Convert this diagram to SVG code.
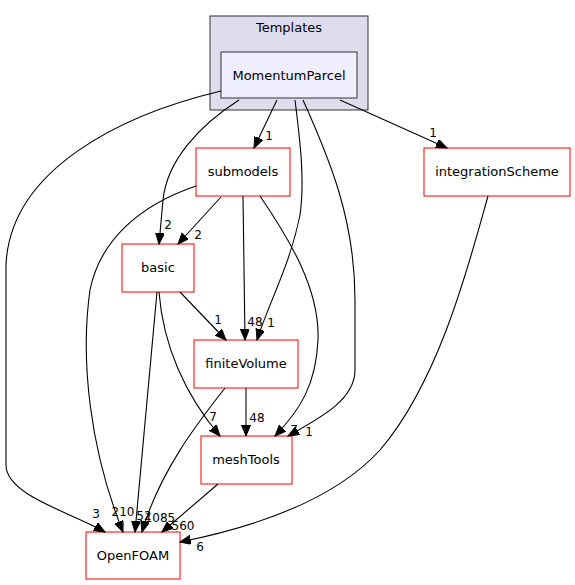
<svg xmlns="http://www.w3.org/2000/svg" width="575" height="585" viewBox="0 0 575 585">
<style>
.node rect{fill:#ffffff;stroke:#ff0000;stroke-width:1}
text{font-family:"DejaVu Sans","Liberation Sans",sans-serif;font-size:13px;fill:#000}
.n{text-anchor:middle}
.e path{fill:none;stroke:#000;stroke-width:1.1;marker-end:url(#ah)}
.e text{text-anchor:middle;font-size:12px}
</style>
<defs>
<marker id="ah" markerUnits="userSpaceOnUse" markerWidth="12" markerHeight="10" refX="11" refY="4.5" orient="auto" viewBox="0 0 12 10">
<polygon points="0,0 11,4.5 0,9" fill="#000" stroke="#000"/>
</marker>
</defs>
<rect width="575" height="585" fill="#fff"/>
<g id="cluster_Templates">
<rect x="210" y="16" width="158" height="94" fill="#ddddee" stroke="#333333"/>
<text class="n" x="289" y="32">Templates</text>
</g>
<g id="MomentumParcel">
<rect x="221" y="52" width="136" height="46" fill="#eeeeff" stroke="#333333"/>
<text class="n" x="289" y="80">MomentumParcel</text>
</g>
<g id="submodels" class="node">
<rect x="196" y="148" width="94" height="48"/>
<text class="n" x="243" y="176">submodels</text>
</g>
<g id="integrationScheme" class="node">
<rect x="424" y="148" width="146" height="48"/>
<text class="n" x="497" y="176">integrationScheme</text>
</g>
<g id="basic" class="node">
<rect x="122" y="244" width="72" height="48"/>
<text class="n" x="158" y="272">basic</text>
</g>
<g id="finiteVolume" class="node">
<rect x="194" y="340" width="104" height="48"/>
<text class="n" x="246" y="368">finiteVolume</text>
</g>
<g id="meshTools" class="node">
<rect x="201" y="436" width="91" height="48"/>
<text class="n" x="246" y="464">meshTools</text>
</g>
<g id="OpenFOAM" class="node">
<rect x="86" y="532" width="94" height="47"/>
<text class="n" x="133" y="560">OpenFOAM</text>
</g>
<g id="edges" class="e">
<path d="M221,91 C120,115 10,170 6,265 L6,465 C6,495 70,512 105,532"/>
<text x="96" y="518">3</text>
<path d="M239,100 C200,125 167,160 163,200 L159,244"/>
<text x="168" y="229">2</text>
<path d="M277,100 L254,148"/>
<text x="269" y="140">1</text>
<path d="M295,100 C300,140 305,180 300,215 C290,265 270,300 257,340"/>
<text x="271" y="327">1</text>
<path d="M303,100 C330,160 355,220 355,300 L355,370 C355,400 320,418 288,436"/>
<text x="309" y="436">1</text>
<path d="M340,100 L447,148"/>
<text x="433" y="137">1</text>
<path d="M221,197 L178,244"/>
<text x="198" y="239">2</text>
<path d="M243,196 L245,340"/>
<text x="255" y="326">48</text>
<path d="M260,196 C290,240 320,290 318,340 C316,385 300,410 275,436"/>
<text x="294" y="434">7</text>
<path d="M196,186 C140,205 100,240 90,290 C80,360 90,450 123,532"/>
<text x="123" y="516">210</text>
<path d="M180,292 L226,340"/>
<text x="218" y="324">1</text>
<path d="M159,292 C163,345 185,395 220,436"/>
<text x="213" y="421">7</text>
<path d="M157,292 L135,532"/>
<text x="144" y="520">52</text>
<path d="M246,388 L246,436"/>
<text x="257" y="422">48</text>
<path d="M225,388 C200,420 160,470 142,532"/>
<text x="160" y="522">1085</text>
<path d="M218,484 L162,532"/>
<text x="183" y="530">560</text>
<path d="M488,196 C470,260 440,380 380,450 C330,505 240,530 180,542"/>
<text x="200" y="551">6</text>
</g>
</svg>
